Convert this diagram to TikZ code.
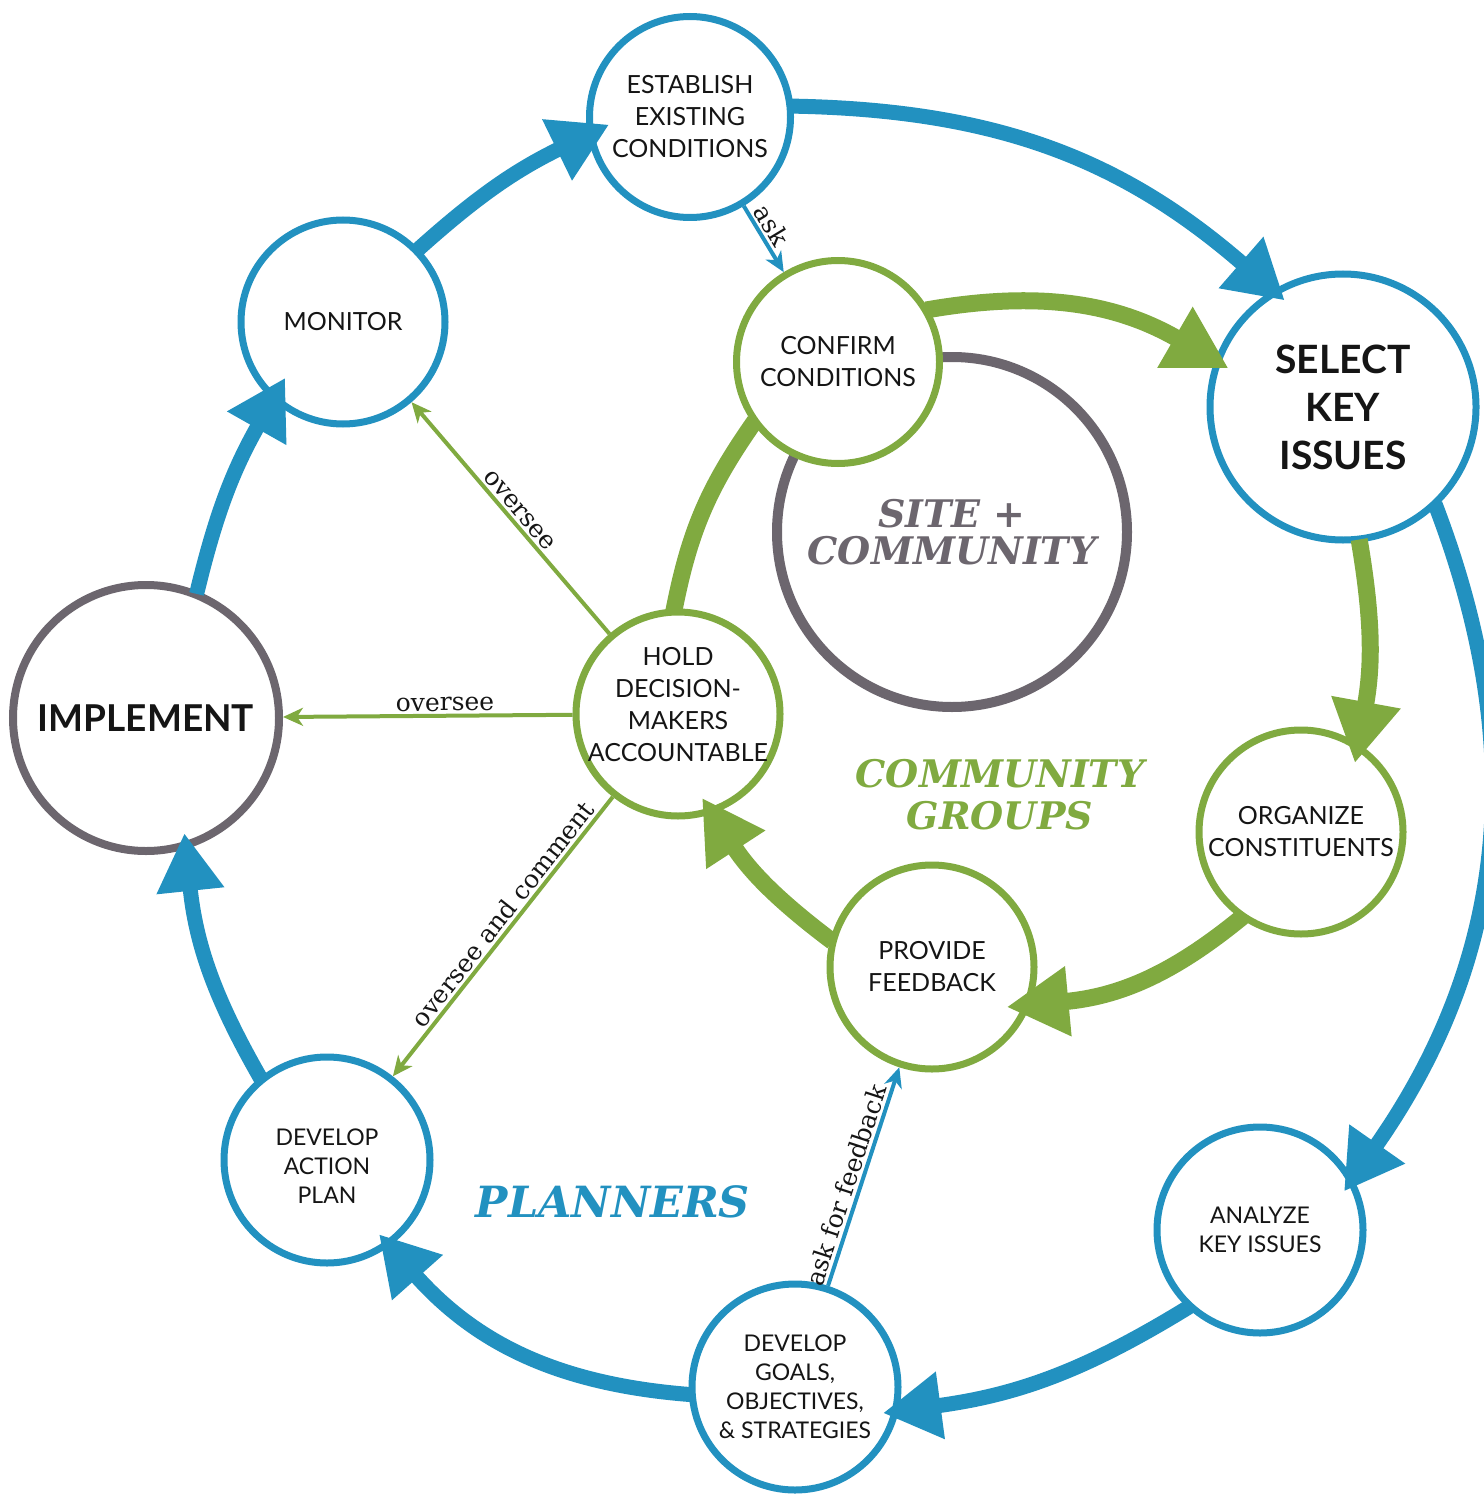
\documentclass[tikz,border=0pt]{standalone}
\usepackage{fontspec}
\usetikzlibrary{arrows.meta}
\newfontfamily\nodefont{Lato}
\newfontfamily\seriffont{DejaVu Serif}
\definecolor{cblue}{HTML}{2291C0}
\definecolor{cgreen}{HTML}{80AA40}
\definecolor{cgrey}{HTML}{6C666E}
\definecolor{ink}{HTML}{151515}

\begin{document}
\begin{tikzpicture}[x=1pt,y=-1pt,
  stagetext/.style={align=center, text=ink, inner sep=0pt,
    font=\nodefont\fontsize{25}{32}\selectfont},
  stage/.style={circle, draw, fill=white, line width=7pt, inner sep=0pt, stagetext},
  smalltext/.style={font=\nodefont\fontsize{23}{29}\selectfont},
  boldtext/.style={font=\nodefont\bfseries\fontsize{39}{48}\selectfont},
  planstage/.style={stage, draw=cblue},
  groupstage/.style={stage, draw=cgreen},
  loopblue/.style={draw=cblue, line width=15pt,
    -{Triangle[length=58pt,width=64pt]}, shorten >=-16pt, shorten <=-3pt},
  loopgreen/.style={draw=cgreen, line width=17pt,
    -{Triangle[length=62pt,width=66pt]}, shorten >=-16pt, shorten <=-3pt},
  link/.style={line width=4pt, -{Stealth[length=20pt,width=18pt,inset=6pt]}},
  linklabel/.style={font=\seriffont\fontsize{25}{28}\selectfont, text=ink,
    inner sep=2.5pt, sloped, above},
  heading/.style={font=\seriffont\bfseries\itshape\fontsize{38}{37}\selectfont,
    align=center, inner sep=0pt}
]
\useasboundingbox (0,0) rectangle (1483,1495);

% central ring
\node[circle, draw=cgrey, fill=white, line width=10pt, minimum size=350pt,
  heading, text=cgrey] (site) at (952,532) {SITE +\\COMMUNITY};

% planner stages
\node[planstage, minimum size=201pt] (est) at (690,117) {ESTABLISH\\EXISTING\\CONDITIONS};
\node[planstage, minimum size=204pt] (mon) at (343,322) {MONITOR};
\node[planstage, minimum size=266pt, boldtext] (sel) at (1343,407) {SELECT\\KEY\\ISSUES};
\node[stage, draw=cgrey, line width=8pt, minimum size=266pt,
  font=\nodefont\bfseries\fontsize{37}{44}\selectfont] (imp) at (146,718) {IMPLEMENT};
\node[planstage, minimum size=206pt,
  label={[stagetext, smalltext, yshift=-6pt]center:{DEVELOP\\ACTION\\PLAN}}] (dap) at (327,1160) {};
\node[planstage, minimum size=206pt, smalltext] (ana) at (1260,1230) {ANALYZE\\KEY ISSUES};
\node[planstage, minimum size=206pt, smalltext] (dg) at (795,1387) {DEVELOP\\GOALS,\\OBJECTIVES,\\\& STRATEGIES};

% community group stages
\node[groupstage, minimum size=203pt] (con) at (838,362) {CONFIRM\\CONDITIONS};
\node[groupstage, minimum size=204pt,
  label={[stagetext, yshift=9pt]center:{HOLD\\DECISION-\\MAKERS\\ACCOUNTABLE}}] (hold) at (678,714) {};
\node[groupstage, minimum size=204pt] (org) at (1301,832) {ORGANIZE\\CONSTITUENTS};
\node[groupstage, minimum size=204pt] (pf) at (932,967) {PROVIDE\\FEEDBACK};

% group headings
\node[heading, text=cgreen, font=\seriffont\bfseries\itshape\fontsize{38}{42}\selectfont]
  (grouplabel) at (1000,795) {COMMUNITY\\GROUPS};
\node[heading, text=cblue, font=\seriffont\bfseries\itshape\fontsize{43}{43}\selectfont]
  (planlabel) at (613,1202) {PLANNERS};

% planners' outer cycle
\draw[loopblue, shorten >=-24pt] (mon.44) to[bend left=8] (est.190);
\draw[loopblue] (est.6) to[bend left=20] (sel.121);
\draw[loopblue] (sel.-47) to[bend left=28] (ana.29);
\draw[loopblue] (ana.227) to[bend left=12] (dg.-13);
\draw[loopblue] (dg.184) to[bend left=22] (dap.-54);
\draw[loopblue] (dap.129) to[bend left=12] (imp.-73);
\draw[loopblue, shorten >=-26pt] (imp.68) to[bend left=8] (mon.228);

% community groups' inner cycle
\draw[loopgreen] (con.30) to[bend left=20] (sel.160);
\draw[loopgreen, shorten >=-20pt] (sel.-83) to[bend left=10] (org.57);
\draw[loopgreen, shorten >=-24pt] (org.235) to[bend left=17] (pf.-21);
\draw[loopgreen, shorten >=-19pt] (pf.165) to[bend left=10] (hold.-71);
\draw[draw=cgreen, line width=17pt, shorten <=-3pt, shorten >=-3pt]
  (hold.92) to[bend left=12] (con.216);

% thin links
\draw[link, cblue] (est) -- node[linklabel, pos=0.4] {ask} (con);
\draw[link, cgreen] (hold) -- node[linklabel] {oversee} (mon);
\draw[link, cgreen] (hold) -- node[linklabel, pos=0.44] {oversee} (imp);
\draw[link, cgreen] (hold) -- node[linklabel, pos=0.45] {oversee and comment} (dap);
\draw[link, cblue] (dg) -- node[linklabel, pos=0.44] {ask for feedback} (pf);
\end{tikzpicture}
\end{document}
